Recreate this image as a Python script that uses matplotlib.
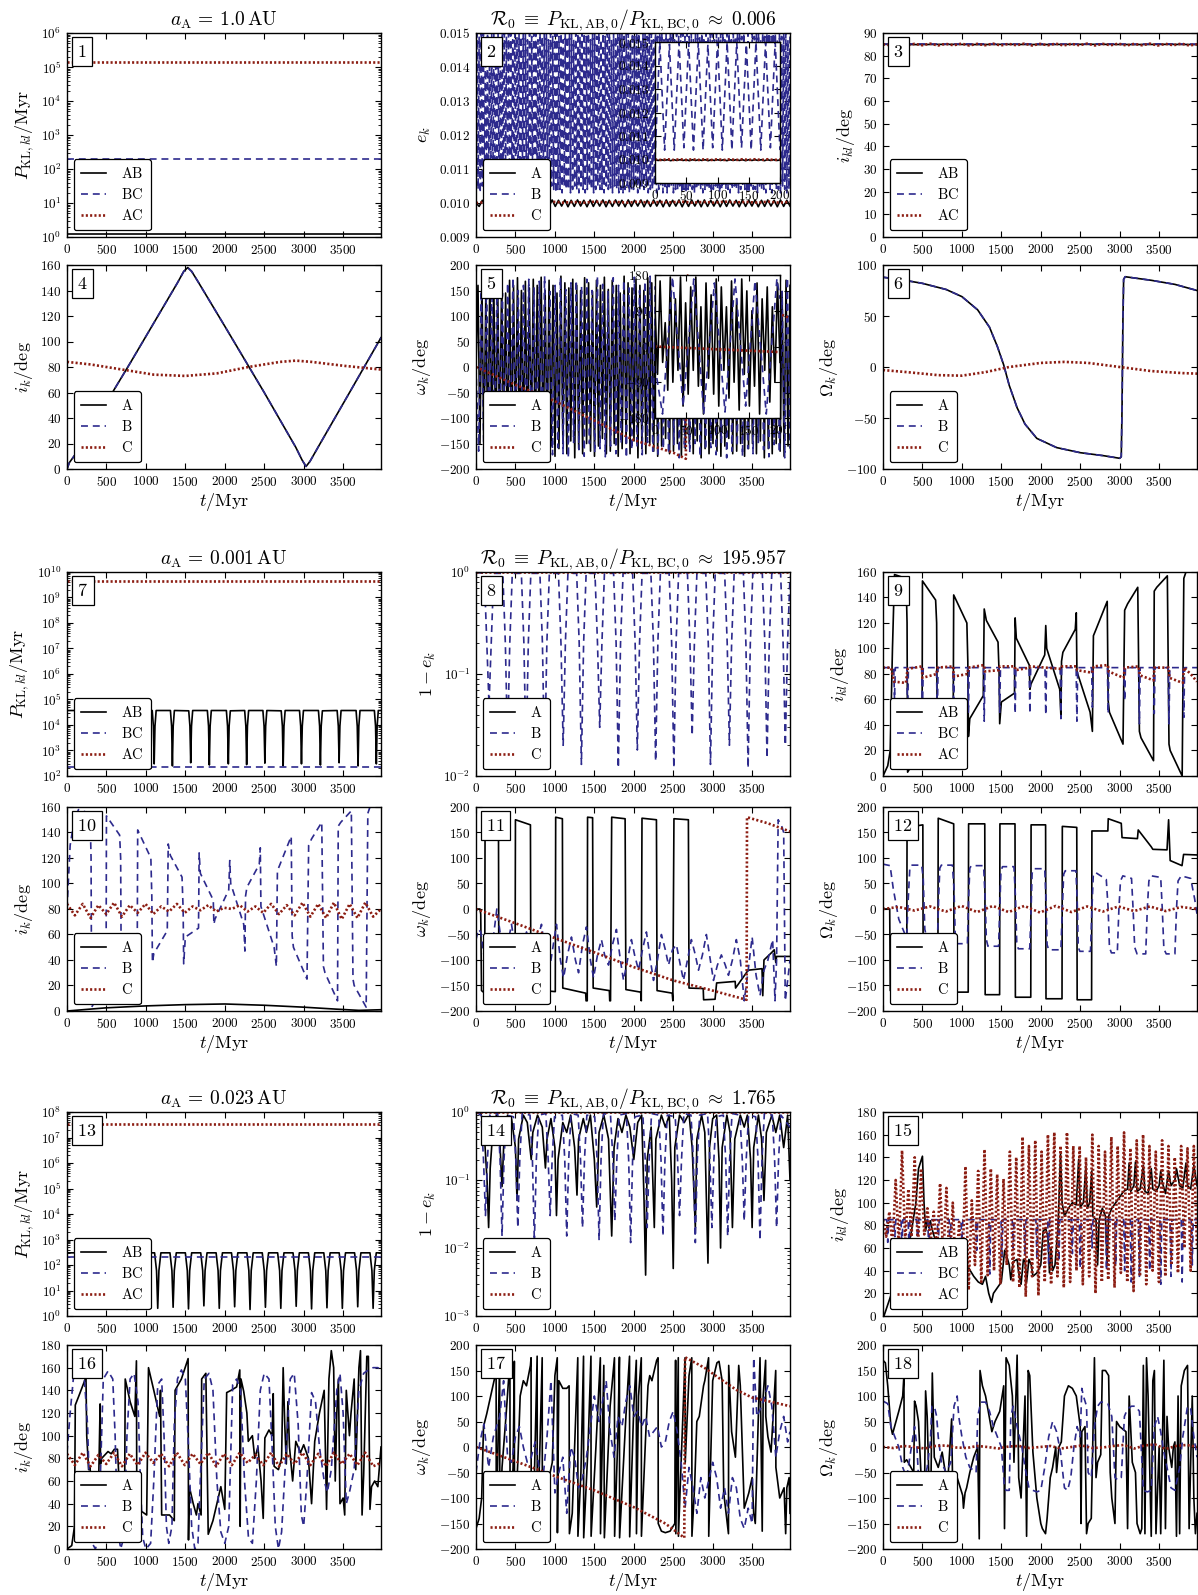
import numpy as np
import matplotlib
matplotlib.use("Agg")
import matplotlib.pyplot as plt
from matplotlib.ticker import FixedLocator, FuncFormatter, LogLocator, NullFormatter, NullLocator

W, H = 1198, 1595
XMAX = 3980
XTICKS = [0, 500, 1000, 1500, 2000, 2500, 3000, 3500]

# ===================== DATA =====================
# ---- top block: a_A = 1.0 AU ----
p1_AB = [(0, 1.25), (3980, 1.25)]
p1_BC = [(0, 195), (3980, 195)]
p1_AC = [(0, 1.45e5), (3980, 1.45e5)]

# e_k, units of 1e-4 (dense, uniformly sampled)
e2_A_e4 = [100.0, 99.0, 100.8, 99.1, 100.9, 98.9, 100.8, 99.0, 100.9, 99.1,
           100.8, 98.9, 100.9, 99.0, 100.8, 99.1, 100.9, 98.9, 100.8, 99.0,
           100.9, 99.1, 100.8, 98.9, 100.9, 99.0, 100.8, 99.1, 100.9, 98.9,
           100.8, 99.0, 100.9, 99.1, 100.8, 98.9, 100.9, 99.0, 100.8, 99.1,
           100.9, 98.9, 100.8, 99.0, 100.9, 99.1, 100.8, 98.9, 100.9, 99.0,
           100.8, 99.1, 100.9, 98.9, 100.8, 99.0, 100.9, 99.1, 100.8, 98.9,
           100.9, 99.0, 100.8, 99.1, 100.9, 98.9, 100.8, 99.0, 100.9, 99.1,
           100.8, 98.9, 100.9, 99.0, 100.8, 99.1, 100.9, 98.9, 100.8, 99.0,
           100.9, 99.1, 100.8, 98.9, 100.9, 99.0, 100.8, 99.1, 100.9, 98.9,
           100.8, 99.0, 100.9, 99.1, 100.8, 98.9, 100.9, 99.0, 100.8, 99.1]
e2_B_e4 = [100, 150, 104, 149, 103, 150, 105, 150, 104, 148, 103, 150, 104, 149, 105, 150, 103, 150, 104, 149,
           104, 150, 105, 148, 103, 150, 104, 150, 104, 149, 103, 150, 105, 150, 104, 148, 104, 150, 103, 149,
           105, 150, 104, 149, 103, 150, 104, 150, 105, 148, 104, 150, 103, 149, 104, 150, 105, 150, 104, 148,
           103, 150, 104, 149, 105, 150, 104, 150, 103, 148, 104, 150, 105, 149, 104, 150, 103, 150, 104, 149,
           104, 150, 103, 148, 105, 150, 104, 149, 104, 150, 103, 150, 104, 148, 105, 150, 104, 150, 103, 149,
           105, 150, 104, 150, 103, 149, 104, 150, 105, 148, 104, 150, 103, 150, 104, 149, 105, 150, 104, 148,
           104, 150, 103, 149, 105, 150, 104, 150, 104, 148, 103, 150, 105, 149, 104, 150, 103, 150, 104, 150,
           103, 149, 104, 150, 105, 150, 103, 148, 104, 150, 104, 149, 105, 150, 103, 150, 104, 148, 105, 150,
           104, 150, 105, 149, 103, 150, 104, 150, 104, 148, 105, 150, 103, 149, 104, 150, 105, 150, 103, 148,
           104, 150, 103, 149, 104, 150, 105, 150, 103, 148, 104, 150, 104, 149, 105, 150, 103, 150, 104, 149,
           103, 150, 104, 149, 105, 150, 104, 148, 103, 150, 104, 150, 105, 149, 104, 150, 103, 148, 104, 150,
           105, 149, 104, 150, 103, 150, 104, 148, 105, 150, 104, 149, 103, 150, 104, 150, 105, 148, 104, 150,
           104, 150, 103, 148, 104, 150, 105, 149, 104, 150, 103, 150, 104, 149, 105, 150, 104, 148, 103, 150,
           103, 148, 105, 150, 104, 149, 104, 150, 103, 150, 105, 148, 104, 150, 104, 149, 103, 150, 105, 150,
           104, 149, 103, 150, 105, 150, 104, 148, 104, 150, 103, 149, 105, 150, 104, 150, 103, 148, 104, 149]
e2_C_e4 = [100.0, 100.3, 100.1, 100.4, 100.1, 100.3, 100.2, 100.4, 100.1, 100.3,
           100.1, 100.4, 100.2, 100.3, 100.1, 100.4, 100.1, 100.3, 100.2, 100.4,
           100.1, 100.3, 100.1, 100.4, 100.2, 100.3, 100.1, 100.4, 100.1, 100.3]
# inset of panel 2 (0..200 Myr)
e2in_B_e4 = [100, 150, 104, 149, 104, 150, 105, 150, 104, 150, 104, 149, 105, 150,
             104, 150, 104, 150, 105, 149, 104, 150, 104, 150, 105, 150, 104]
e2in_A_e4 = [100.0, 99.6, 99.9, 99.6, 99.9, 99.5, 99.9, 99.6, 99.9, 99.6,
             99.9, 99.5, 99.9, 99.6, 99.9, 99.6, 99.9, 99.5, 99.9, 99.6,
             99.9, 99.6, 99.9, 99.5, 99.9, 99.6, 99.9, 99.6, 99.9, 99.5,
             99.9, 99.6, 99.9, 99.6, 99.9, 99.5, 99.9, 99.6, 99.9, 99.6, 99.8]
e2in_C_e4 = [100.0, 99.8, 100.1, 99.8, 100.1, 99.8, 100.1, 99.8, 100.1, 99.8,
             100.1, 99.8, 100.1, 99.8, 100.1, 99.8, 100.1, 99.8, 100.1, 99.8, 100.0]

i3_AB = [85.0, 84.9, 85.0, 84.9, 85.0, 84.9, 85.0, 85.0, 84.9, 85.0, 84.9]
i3_BC = [85.1, 85.2, 85.1, 85.2, 85.1, 85.2, 85.1, 85.2, 85.1, 85.2, 85.1]
i3_AC = [85.0, 84.6, 85.3, 84.5, 85.2, 84.6, 85.3, 84.5, 85.2, 84.6, 85.3, 84.5, 85.2, 84.6,
         85.3, 84.5, 85.2, 84.6, 85.3, 84.5, 85.2, 84.6, 85.3, 84.5, 85.2, 84.6, 85.3, 84.5,
         85.2, 84.6, 85.3, 84.5, 85.2, 84.6, 85.3, 84.5, 85.2, 84.6, 85.3, 84.5, 85.0]

i4_A = [(0, 0), (30, 5), (100, 11), (400, 42), (800, 83), (1200, 125), (1400, 146), (1480, 155),
        (1530, 158), (1580, 155), (1660, 147), (2000, 112), (2500, 60), (2900, 17), (2980, 7),
        (3030, 2), (3080, 6), (3200, 19), (3600, 62), (3980, 103)]
i4_B = i4_A  # B lies on top of A in the picture
i4_C = [(0, 84), (300, 82), (700, 78), (1100, 74), (1500, 73), (1900, 75), (2300, 80),
        (2700, 84), (2900, 85), (3100, 84), (3500, 81), (3980, 78)]

w5_A = [0, 160, -150, 170, -165, 150, -175, 175, -140, 165, -170, 155, -160, 178, -150, 145, -175, 170, -165, 160,
        -145, 175, -170, 150, -160, 168, -178, 155, -150, 172, -165, 160, -140, 176, -170, 150, -165, 170, -155, 160,
        -175, 145, -160, 178, -150, 165, -170, 155, -145, 172, -178, 160, -160, 150, -170, 175, -150, 165, -165, 148,
        -175, 170, -155, 160, -140, 176, -170, 152, -165, 170, -150, 160, -175, 145, -160, 178, -150, 165, -170, 155,
        -145, 172, -178, 160, -160, 150, -170, 175, -150, 165, -165, 148, -175, 170, -155, 160, -140, 176, -170, 152,
        -165, 170, -150, 160, -175, 145, -160, 178, -150, 165, -170, 155, -145, 172, -178, 160, -160, 150, -170, 175,
        -150, 165, -165, 148, -175, 170, -155, 160, -140, 176, -170, 152, -165, 170, -150, 160, -175, 145, -160, 178,
        -150, 165, -170, 155, -145, 172, -178, 160, -160, 150, -170, 175, -150, 165, -165, 148, -175, 170, -155, 160]
w5_B = [0, -165, 150, -178, 170, -150, 160, -170, 178, -160, 145, -175, 165, -155, 175, -168, 150, -178, 160, -145,
        172, -160, 155, -175, 168, -150, 178, -165, 148, -172, 160, -158, 175, -170, 152, -178, 165, -148, 170, -162,
        158, -175, 172, -150, 150, -168, 178, -160, 162, -176, 148, -155, 175, -170, 160, -150, 170, -178, 155, -162,
        176, -158, 150, -172, 168, -148, 178, -165, 158, -175, 145, -160, 172, -170, 165, -152, 150, -178, 175, -160,
        160, -168, 170, -150, 155, -176, 178, -162, 148, -158, 168, -172, 160, -150, 175, -178, 152, -165, 170, -155,
        158, -175, 176, -160, 150, -170, 165, -148, 178, -162, 155, -176, 170, -152, 160, -168, 148, -178, 175, -160]
w5_C = [(0, 0), (500, -35), (1000, -67), (1500, -105), (2000, -143), (2500, -168), (2660, -180),
        (2665, 180), (3000, 160), (3500, 125), (3980, 96)]
w5in_A = [90, -70, 165, -40, 60, -110, 175, -90, 120, -60, 175, -150, 110, -120, 150, -60, 175, -100,
          100, -170, 160, -80, 130, -120, 170, -150, 150, -60, 100, -130, 165, -90, 120, -160, 170, -70,
          140, -150, 90, -100, 160, -170, 120, -60, 150, -140, 100, -90, 160, -40]
w5in_B = [(0, -50), (12, -170), (28, 175), (45, -150), (62, 170), (78, -170), (95, 160), (112, -165),
          (128, 170), (145, -150), (160, 165), (178, -170), (195, 170), (200, 120)]
w5in_C = [(0, 0), (200, -14)]

O6_A = [(0, 88), (200, 86), (500, 82), (800, 76), (1000, 69), (1200, 56), (1350, 39), (1450, 20),
        (1530, 2), (1600, -18), (1700, -40), (1800, -56), (1950, -70), (2200, -79), (2500, -84),
        (2800, -87), (3000, -89.5), (3020, -88), (3030, -40), (3040, 40), (3050, 86), (3070, 88.5),
        (3400, 85), (3700, 81), (3980, 75)]
O6_B = O6_A  # B lies on top of A in the picture
O6_C = [(0, -3), (300, -5), (700, -8), (1000, -8.5), (1300, -5), (1600, 0), (2000, 4), (2300, 5),
        (2600, 4), (3000, 0), (3400, -4), (3800, -6), (3980, -6.5)]

# ---- middle block: a_A = 0.001 AU ----
p7_AB = [(0, 3.7e4), (140, 3.7e4), (155, 9e3), (165, 300), (175, 9e3), (190, 3.7e4),
         (375, 3.6e4), (390, 9e3), (400, 280), (410, 9e3), (425, 3.7e4),
         (610, 3.7e4), (625, 9e3), (635, 330), (645, 9e3), (660, 3.7e4),
         (845, 3.7e4), (860, 9e3), (870, 260), (880, 9e3), (895, 3.6e4),
         (1080, 3.7e4), (1095, 9e3), (1105, 300), (1115, 9e3), (1130, 3.7e4),
         (1311, 3.7e4), (1326, 9e3), (1336, 250), (1346, 9e3), (1361, 3.7e4),
         (1543, 3.6e4), (1558, 9e3), (1568, 330), (1578, 9e3), (1593, 3.7e4),
         (1779, 3.7e4), (1794, 9e3), (1804, 270), (1814, 9e3), (1829, 3.7e4),
         (2020, 3.7e4), (2035, 9e3), (2045, 300), (2055, 9e3), (2070, 3.6e4),
         (2252, 3.7e4), (2267, 9e3), (2277, 280), (2287, 9e3), (2302, 3.7e4),
         (2483, 3.7e4), (2498, 9e3), (2508, 320), (2518, 9e3), (2533, 3.7e4),
         (2715, 3.6e4), (2730, 9e3), (2740, 250), (2750, 9e3), (2765, 3.7e4),
         (2947, 3.7e4), (2962, 9e3), (2972, 300), (2982, 9e3), (2997, 3.7e4),
         (3187, 3.7e4), (3202, 9e3), (3212, 270), (3222, 9e3), (3237, 3.6e4),
         (3424, 3.7e4), (3439, 9e3), (3449, 330), (3459, 9e3), (3474, 3.7e4),
         (3664, 3.7e4), (3679, 9e3), (3689, 250), (3699, 9e3), (3714, 3.7e4),
         (3896, 3.7e4), (3911, 9e3), (3921, 300), (3931, 9e3), (3946, 3.7e4), (3980, 3.7e4)]
p7_BC = [(0, 225), (3980, 225)]
p7_AC = [(0, 4.6e9), (3980, 4.6e9)]

q8_A = [(0, 0.995), (3980, 0.995)]
q8_B = [(0, 0.99), (105, 0.97), (137, 0.2), (165, 0.05), (193, 0.2), (225, 0.97),
        (340, 0.97), (372, 0.2), (400, 0.02), (428, 0.2), (460, 0.97),
        (575, 0.97), (607, 0.2), (635, 0.015), (663, 0.2), (695, 0.97),
        (810, 0.97), (842, 0.2), (870, 0.012), (898, 0.2), (930, 0.97),
        (1045, 0.97), (1077, 0.2), (1105, 0.02), (1133, 0.2), (1165, 0.97),
        (1276, 0.97), (1308, 0.2), (1336, 0.013), (1364, 0.2), (1396, 0.97),
        (1508, 0.97), (1540, 0.2), (1568, 0.03), (1596, 0.2), (1628, 0.97),
        (1744, 0.97), (1776, 0.2), (1804, 0.012), (1832, 0.2), (1864, 0.97),
        (1985, 0.97), (2017, 0.2), (2045, 0.018), (2073, 0.2), (2105, 0.97),
        (2217, 0.97), (2249, 0.2), (2277, 0.014), (2305, 0.2), (2337, 0.97),
        (2448, 0.97), (2480, 0.2), (2508, 0.012), (2536, 0.2), (2568, 0.97),
        (2680, 0.97), (2712, 0.2), (2740, 0.025), (2768, 0.2), (2800, 0.97),
        (2912, 0.97), (2944, 0.2), (2972, 0.013), (3000, 0.2), (3032, 0.97),
        (3152, 0.97), (3184, 0.2), (3212, 0.02), (3240, 0.2), (3272, 0.97),
        (3389, 0.97), (3421, 0.2), (3449, 0.012), (3477, 0.2), (3509, 0.97),
        (3629, 0.97), (3661, 0.2), (3689, 0.015), (3717, 0.2), (3749, 0.97),
        (3861, 0.97), (3893, 0.2), (3921, 0.02), (3949, 0.2), (3980, 0.9)]
q8_C = [(0, 0.999), (3980, 0.999)]

i9_AB = [(0, 0), (60, 8), (92, 20), (120, 100), (146, 158), (292, 155), (305, 120), (312, 3),
         (495, 22), (500, 153), (667, 138), (680, 120), (688, 22), (890, 45), (896, 142),
         (1063, 120), (1075, 90), (1083, 31), (1100, 45), (1271, 63), (1283, 131), (1310, 122),
         (1458, 105), (1472, 80), (1479, 41), (1500, 58), (1667, 65), (1675, 124), (1690, 108),
         (1854, 87), (1862, 68), (1875, 72), (2050, 95), (2063, 118), (2075, 100), (2240, 68),
         (2255, 47), (2263, 90), (2280, 97), (2437, 115), (2450, 128), (2458, 82), (2625, 50),
         (2654, 35), (2667, 110), (2700, 115), (2842, 137), (2854, 59), (2870, 50), (3042, 25),
         (3063, 130), (3100, 135), (3229, 148), (3250, 35), (3270, 30), (3429, 12), (3438, 145),
         (3470, 148), (3604, 157), (3625, 25), (3640, 20), (3792, 0), (3813, 155), (3840, 160),
         (3980, 160)]
i9_BC = [(0, 85), (136, 85), (146, 60), (156, 85), (302, 85), (312, 45), (322, 85),
         (490, 85), (500, 50), (510, 85), (678, 85), (688, 45), (698, 85), (886, 85), (896, 55), (906, 85),
         (1073, 85), (1083, 50), (1093, 85), (1273, 85), (1283, 43), (1293, 85), (1469, 85), (1479, 50), (1489, 85),
         (1665, 85), (1675, 49), (1685, 85), (1852, 85), (1862, 49), (1872, 85), (2053, 85), (2063, 48), (2073, 85),
         (2245, 85), (2255, 45), (2265, 85), (2448, 85), (2458, 43), (2468, 85), (2644, 85), (2654, 54), (2664, 85),
         (2844, 85), (2854, 49), (2864, 85), (3053, 85), (3063, 59), (3073, 85), (3240, 85), (3250, 41), (3260, 85),
         (3428, 85), (3438, 49), (3448, 85), (3615, 85), (3625, 41), (3635, 85), (3803, 85), (3813, 46), (3823, 85),
         (3980, 85)]
i9_AC = [(0, 85), (100, 85), (140, 74), (290, 73), (312, 84), (495, 86), (500, 77), (680, 80), (690, 85),
         (890, 86), (896, 78), (1070, 80), (1083, 85), (1280, 87), (1290, 82), (1470, 83), (1480, 86),
         (1670, 86), (1680, 83), (1860, 85), (1870, 86), (2060, 85), (2260, 84), (2270, 86), (2450, 86),
         (2460, 83), (2650, 81), (2670, 86), (2850, 87), (2860, 82), (3050, 77), (3065, 85), (3240, 86),
         (3255, 79), (3430, 75), (3440, 85), (3620, 85), (3630, 77), (3800, 73), (3815, 85), (3900, 80),
         (3980, 74)]

i10_A = [(0, 0), (200, 1), (500, 2.5), (1000, 4), (1500, 5), (2000, 5.5), (2500, 4.5), (3000, 3),
         (3400, 1.5), (3700, 0.5), (3980, 1)]
i10_B = [(0, 80), (40, 130), (92, 150), (146, 158), (292, 155), (305, 120), (312, 3), (495, 22),
         (500, 153), (667, 138), (680, 120), (688, 22), (890, 45), (896, 142), (1063, 120), (1075, 90),
         (1083, 38), (1100, 45), (1271, 63), (1283, 131), (1310, 122), (1458, 105), (1472, 80), (1479, 37),
         (1500, 58), (1667, 65), (1675, 124), (1690, 108), (1854, 87), (1862, 68), (1875, 72), (2050, 95),
         (2063, 118), (2075, 100), (2240, 68), (2255, 47), (2263, 90), (2280, 97), (2437, 115), (2450, 128),
         (2458, 82), (2625, 50), (2654, 35), (2667, 110), (2700, 115), (2842, 137), (2854, 59), (2870, 50),
         (3042, 25), (3063, 130), (3100, 135), (3229, 148), (3250, 35), (3270, 30), (3429, 8), (3438, 145),
         (3470, 148), (3604, 157), (3625, 25), (3640, 20), (3792, 3), (3813, 155), (3840, 160), (3980, 160)]
i10_C = [84, 75, 84, 73, 83, 76, 85, 74, 83, 77, 84, 76, 82, 78, 84, 77, 82, 79, 83, 78, 81,
         80, 83, 78, 82, 77, 84, 76, 83, 75, 85, 74, 84, 73, 85, 72, 84, 73, 85, 74, 80]

w11_A = [(0, 0), (50, 0), (60, -10), (70, -160), (110, -165), (115, 165), (285, 160), (290, -160),
         (495, -165), (500, 175), (690, 165), (695, -158), (1005, -162), (1010, 180), (1095, 177),
         (1100, -155), (1390, -165), (1395, -180), (1410, -180), (1414, 180), (1478, 179), (1485, -155),
         (1690, -160), (1695, -180), (1705, -180), (1720, 180), (1890, 177), (1900, -158), (2087, -163),
         (2095, -180), (2104, 178), (2287, 175), (2295, -160), (2487, -165), (2495, -180), (2509, 177),
         (2692, 175), (2700, -155), (2880, -156), (2885, -178), (3030, -177), (3050, -145), (3285, -142),
         (3290, -155), (3450, -120), (3625, -117), (3635, -170), (3650, -100), (3750, -85), (3780, -80),
         (3800, -105), (3810, -93), (3980, -93)]
w11_B = [(0, -60), (30, -40), (60, -45), (100, -90), (160, -130), (200, -80), (264, 0), (300, -40),
         (350, -100), (400, -70), (450, -30), (500, -80), (540, -120), (600, -70), (640, -45), (690, -70),
         (730, -95), (780, -60), (830, -30), (880, -90), (920, -130), (970, -80), (1020, -30), (1070, -100),
         (1110, -135), (1160, -90), (1210, -55), (1260, -100), (1300, -125), (1350, -70), (1400, -35),
         (1450, -100), (1490, -135), (1540, -90), (1590, -60), (1630, -90), (1680, -110), (1730, -70),
         (1780, -40), (1830, -100), (1870, -140), (1920, -100), (1970, -60), (2010, -90), (2060, -120),
         (2110, -80), (2160, -45), (2210, -100), (2250, -140), (2300, -100), (2350, -50), (2400, -80),
         (2440, -110), (2490, -80), (2540, -70), (2590, -110), (2630, -140), (2680, -100), (2730, -60),
         (2780, -90), (2820, -120), (2870, -90), (2920, -50), (2970, -100), (3010, -140), (3060, -110),
         (3110, -90), (3160, -110), (3200, -130), (3250, -100), (3300, -60), (3350, -100), (3400, -180),
         (3450, -120), (3500, -55), (3550, -130), (3600, -170), (3650, -120), (3700, -100), (3760, -60),
         (3790, -180), (3810, -100), (3830, 175), (3870, 165), (3900, 150), (3920, -180), (3950, -140),
         (3980, -100)]
w11_C = [(0, 0), (500, -28), (1000, -57), (1500, -85), (2000, -114), (2500, -140), (3000, -160),
         (3430, -178), (3435, 180), (3700, 168), (3980, 152)]

O12_A = [(0, 0), (85, 0), (92, -160), (300, -165), (305, 160), (505, 165), (510, -165), (695, -165),
         (700, 178), (896, 167), (900, -163), (1080, -163), (1085, 167), (1290, 167), (1295, -168),
         (1478, -168), (1482, 167), (1673, 167), (1678, -173), (1873, -173), (1877, 165), (2061, 165),
         (2066, -176), (2269, -176), (2273, 162), (2456, 160), (2461, -178), (2644, -178), (2648, 153),
         (2850, 153), (2855, 177), (3020, 168), (3030, 140), (3225, 138), (3235, 155), (3400, 122),
         (3420, 117), (3600, 116), (3620, 175), (3640, 95), (3790, 85), (3810, 107), (3980, 106)]
O12_B = [(0, 88), (90, 85), (130, 40), (200, -20), (280, -50), (300, -55), (320, 20), (340, 80), (360, 86),
         (490, 86), (510, 60), (530, -40), (560, -60), (690, -62), (705, 20), (720, 80), (740, 86), (880, 86),
         (900, 40), (915, -50), (940, -68), (1070, -68), (1085, 20), (1100, 80), (1120, 85), (1275, 85),
         (1295, 20), (1310, -60), (1330, -73), (1465, -73), (1480, 0), (1495, 75), (1515, 83), (1660, 83),
         (1680, 20), (1695, -65), (1715, -78), (1860, -78), (1877, 0), (1890, 70), (1910, 79), (2050, 79),
         (2066, 20), (2080, -70), (2100, -80), (2255, -80), (2273, 0), (2290, 68), (2310, 75), (2445, 75),
         (2461, 20), (2475, -75), (2495, -83), (2630, -83), (2648, 0), (2665, 65), (2690, 72), (2830, 58),
         (2854, 0), (2870, -75), (2895, -86), (2970, -86), (2990, 0), (3010, 55), (3040, 65), (3150, 60),
         (3170, 0), (3190, -75), (3220, -88), (3330, -88), (3350, 0), (3370, 55), (3400, 65), (3520, 62),
         (3540, 0), (3560, -78), (3590, -88), (3700, -88), (3720, 0), (3740, 55), (3780, 65), (3900, 60),
         (3950, 20), (3980, -10)]
O12_C = [0, 4, -3, 5, -5, 6, -6, 6, -6, 6, -7, 6, -6, 5, -5, 5, -4, 5, -4, 4, 0]

# ---- bottom block: a_A = 0.023 AU ----
p13_AB = [(0, 300), (135, 300), (160, 60), (175, 2.5), (190, 60), (215, 300), (330, 300), (355, 60), (370, 2.0),
          (385, 60), (410, 300), (525, 300), (550, 60), (565, 2.2), (580, 60), (605, 300), (720, 300), (745, 60),
          (760, 1.8), (775, 60), (800, 300), (915, 300), (940, 60), (955, 2.4), (970, 60), (995, 300),
          (1110, 300), (1135, 60), (1150, 2.0), (1165, 60), (1190, 300), (1305, 300), (1330, 60), (1345, 2.2),
          (1360, 60), (1385, 300), (1500, 300), (1525, 60), (1540, 1.9), (1555, 60), (1580, 300), (1695, 300),
          (1720, 60), (1735, 2.5), (1750, 60), (1775, 300), (1890, 300), (1915, 60), (1930, 2.0), (1945, 60),
          (1970, 300), (2085, 300), (2110, 60), (2125, 2.3), (2140, 60), (2165, 300), (2280, 300), (2305, 60),
          (2320, 1.8), (2335, 60), (2360, 300), (2475, 300), (2500, 60), (2515, 2.2), (2530, 60), (2555, 300),
          (2670, 300), (2695, 60), (2710, 2.0), (2725, 60), (2750, 300), (2865, 300), (2890, 60), (2905, 2.4),
          (2920, 60), (2945, 300), (3060, 300), (3085, 60), (3100, 1.9), (3115, 60), (3140, 300), (3255, 300),
          (3280, 60), (3295, 2.1), (3310, 60), (3335, 300), (3450, 300), (3475, 60), (3490, 2.0), (3505, 60),
          (3530, 300), (3645, 300), (3670, 60), (3685, 2.3), (3700, 60), (3725, 300), (3840, 300), (3865, 60),
          (3880, 2.0), (3895, 60), (3920, 300), (3980, 300)]
p13_BC = [(0, 200), (3980, 200)]
p13_AC = [(0, 3.5e7), (3980, 3.5e7)]

q14_A = [(0, 0.99), (60, 0.98), (100, 0.6), (140, 0.1), (160, 0.02), (180, 0.15), (220, 0.7), (260, 0.9),
         (300, 0.4), (330, 0.08), (350, 0.3), (400, 0.9), (450, 0.8), (500, 0.3), (520, 0.05), (540, 0.4),
         (600, 0.9), (650, 0.7), (700, 0.2), (720, 0.5), (780, 0.9), (840, 0.6), (880, 0.15), (900, 0.4),
         (950, 0.8), (1000, 0.3), (1020, 0.03), (1040, 0.2), (1100, 0.7), (1150, 0.5), (1200, 0.9),
         (1250, 0.3), (1280, 0.06), (1300, 0.4), (1360, 0.8), (1400, 0.5), (1450, 0.9), (1500, 0.2),
         (1530, 0.04), (1560, 0.5), (1620, 0.9), (1680, 0.4), (1720, 0.015), (1750, 0.3), (1800, 0.8),
         (1850, 0.5), (1900, 0.9), (1950, 0.6), (2000, 0.2), (2050, 0.7), (2100, 0.9), (2130, 0.05),
         (2150, 0.004), (2170, 0.2), (2220, 0.6), (2260, 0.02), (2280, 0.4), (2350, 0.9), (2400, 0.6),
         (2450, 0.9), (2480, 0.1), (2500, 0.005), (2520, 0.3), (2580, 0.9), (2640, 0.7), (2700, 0.95),
         (2740, 0.3), (2780, 0.02), (2800, 0.4), (2860, 0.9), (2900, 0.5), (2940, 0.006), (2960, 0.3),
         (3000, 0.8), (3050, 0.9), (3080, 0.2), (3100, 0.01), (3120, 0.3), (3180, 0.9), (3220, 0.5),
         (3250, 0.02), (3280, 0.4), (3350, 0.9), (3400, 0.6), (3440, 0.9), (3480, 0.2), (3500, 0.02),
         (3520, 0.3), (3580, 0.9), (3620, 0.4), (3650, 0.05), (3680, 0.5), (3750, 0.9), (3800, 0.5),
         (3850, 0.9), (3900, 0.3), (3950, 0.9), (3980, 0.1)]
q14_B = [(0, 0.99), (65, 0.9), (95, 0.2), (120, 0.03), (145, 0.2), (175, 0.9), (275, 0.95), (305, 0.2),
         (330, 0.015), (355, 0.2), (385, 0.9), (475, 0.85), (505, 0.2), (530, 0.02), (555, 0.2), (585, 0.95),
         (685, 0.9), (715, 0.2), (740, 0.012), (765, 0.2), (795, 0.9), (885, 0.95), (915, 0.2), (940, 0.03),
         (965, 0.2), (995, 0.85), (1095, 0.9), (1125, 0.2), (1150, 0.015), (1175, 0.2), (1205, 0.95),
         (1295, 0.9), (1325, 0.2), (1350, 0.02), (1375, 0.2), (1405, 0.9), (1505, 0.85), (1535, 0.2),
         (1560, 0.013), (1585, 0.2), (1615, 0.95), (1705, 0.9), (1735, 0.2), (1760, 0.025), (1785, 0.2),
         (1815, 0.9), (1905, 0.95), (1935, 0.2), (1960, 0.012), (1985, 0.2), (2015, 0.85), (2115, 0.9),
         (2145, 0.2), (2170, 0.02), (2195, 0.2), (2225, 0.95), (2315, 0.9), (2345, 0.2), (2370, 0.015),
         (2395, 0.2), (2425, 0.9), (2525, 0.85), (2555, 0.2), (2580, 0.03), (2605, 0.2), (2635, 0.95),
         (2725, 0.9), (2755, 0.2), (2780, 0.012), (2805, 0.2), (2835, 0.9), (2935, 0.95), (2965, 0.2),
         (2990, 0.02), (3015, 0.2), (3045, 0.85), (3135, 0.9), (3165, 0.2), (3190, 0.015), (3215, 0.2),
         (3245, 0.95), (3345, 0.9), (3375, 0.2), (3400, 0.025), (3425, 0.2), (3455, 0.9), (3545, 0.85),
         (3575, 0.2), (3600, 0.013), (3625, 0.2), (3655, 0.95), (3755, 0.9), (3785, 0.2), (3810, 0.02),
         (3835, 0.2), (3865, 0.9), (3980, 0.6)]
q14_C = [(0, 0.999), (3980, 0.999)]

i15_AB = [(0, 0), (12, 0), (104, 19), (150, 45), (250, 60), (350, 70), (417, 100), (450, 130), (500, 141),
          (520, 100), (540, 75), (560, 84), (580, 78), (600, 84), (625, 76), (650, 70), (750, 55), (900, 50),
          (1000, 45), (1063, 45), (1150, 35), (1208, 30), (1260, 28), (1300, 35), (1340, 20), (1375, 12),
          (1400, 20), (1450, 25), (1500, 30), (1542, 58), (1580, 50), (1600, 45), (1620, 32), (1650, 48),
          (1700, 50), (1720, 38), (1750, 28), (1780, 50), (1800, 48), (1820, 30), (1850, 50), (1880, 45),
          (1900, 35), (1950, 38), (2000, 45), (2030, 75), (2063, 77), (2090, 70), (2110, 38), (2130, 60),
          (2150, 40), (2180, 45), (2220, 80), (2250, 143), (2270, 100), (2300, 88), (2350, 95), (2400, 100),
          (2450, 98), (2480, 138), (2500, 96), (2540, 100), (2571, 132), (2590, 95), (2620, 100), (2646, 128),
          (2660, 88), (2700, 85), (2720, 45), (2740, 85), (2780, 95), (2820, 88), (2840, 46), (2860, 88),
          (2900, 95), (2950, 100), (3000, 105), (3050, 110), (3100, 112), (3120, 135), (3140, 110),
          (3180, 115), (3200, 136), (3220, 110), (3260, 112), (3300, 133), (3320, 110), (3360, 108),
          (3400, 130), (3420, 112), (3460, 110), (3500, 115), (3520, 128), (3540, 118), (3580, 108),
          (3620, 128), (3650, 115), (3700, 120), (3720, 130), (3760, 115), (3800, 113), (3840, 135),
          (3860, 115), (3900, 112), (3940, 133), (3980, 115)]
i15_BC = [(0, 85), (48, 85), (60, 65), (72, 85), (138, 85), (150, 70), (162, 85), (228, 85), (240, 62), (252, 85),
          (318, 85), (330, 60), (342, 85), (428, 85), (440, 58), (452, 85), (568, 85), (580, 55), (592, 85),
          (688, 85), (700, 60), (712, 85), (838, 85), (850, 50), (862, 85), (988, 85), (1000, 65), (1012, 85),
          (1176, 85), (1188, 58), (1200, 85), (1342, 85), (1354, 37), (1366, 85), (1496, 85), (1508, 52), (1520, 85),
          (1638, 85), (1650, 60), (1662, 85), (1788, 85), (1800, 55), (1812, 85), (1938, 85), (1950, 50), (1962, 85),
          (2088, 85), (2100, 45), (2112, 85), (2218, 85), (2230, 48), (2242, 85), (2388, 85), (2400, 55), (2412, 85),
          (2488, 85), (2500, 42), (2512, 85), (2638, 85), (2650, 60), (2662, 85), (2821, 85), (2833, 40), (2845, 85),
          (2938, 85), (2950, 45), (2962, 85), (3051, 85), (3063, 40), (3075, 85), (3134, 85), (3146, 30), (3158, 85),
          (3238, 85), (3250, 35), (3262, 85), (3368, 85), (3380, 40), (3392, 85), (3509, 85), (3521, 28), (3533, 85),
          (3638, 85), (3650, 35), (3662, 85), (3780, 85), (3792, 30), (3804, 85), (3908, 85), (3920, 45), (3932, 85),
          (3980, 85)]
i15_AC = [85, 70, 92, 62, 120, 60, 146, 66, 112, 70, 140, 58, 130, 72, 95, 65, 92, 56, 117, 50, 113, 44, 100, 36, 83,
          40, 132, 23, 102, 45, 128, 30, 147, 36, 130, 40, 125, 28, 121, 45, 145, 30, 140, 25, 158, 17, 150, 35, 155, 18,
          145, 30, 160, 28, 162, 35, 150, 25, 162, 30, 150, 40, 150, 28, 140, 35, 160, 20, 150, 30,
          145, 32, 158, 25, 150, 38, 162, 30, 148, 22, 155, 35, 160, 28, 150, 40, 145, 30, 155, 35,
          150, 45, 140, 38, 150, 60, 148, 40, 150, 60]

i16_A = [(0, 0), (60, 3), (95, 20), (105, 127), (150, 135), (232, 150), (240, 155), (250, 100), (274, 70),
         (290, 72), (300, 66), (330, 60), (400, 55), (420, 128), (425, 75), (440, 80), (520, 86), (560, 84),
         (600, 88), (640, 88), (660, 60), (700, 45), (730, 40), (738, 150), (800, 130), (860, 117), (880, 166),
         (885, 35), (950, 33), (1010, 30), (1033, 160), (1100, 140), (1175, 117), (1185, 140), (1200, 30),
         (1300, 30), (1360, 25), (1370, 140), (1450, 150), (1535, 168), (1540, 8), (1550, 55), (1600, 40),
         (1640, 30), (1660, 40), (1700, 30), (1707, 150), (1760, 155), (1790, 13), (1850, 25), (1900, 40),
         (1950, 55), (2000, 35), (2024, 138), (2080, 140), (2150, 143), (2190, 158), (2195, 20), (2205, 150),
         (2240, 139), (2280, 120), (2298, 95), (2350, 100), (2380, 80), (2420, 90), (2460, 60), (2487, 27),
         (2508, 98), (2560, 105), (2600, 100), (2614, 137), (2625, 73), (2680, 70), (2720, 80), (2740, 160),
         (2760, 110), (2780, 75), (2800, 130), (2820, 90), (2860, 60), (2900, 95), (2960, 85), (3000, 92),
         (3060, 80), (3100, 40), (3140, 95), (3200, 120), (3260, 140), (3290, 35), (3320, 150), (3350, 175),
         (3380, 160), (3400, 60), (3420, 120), (3440, 150), (3460, 40), (3500, 45), (3520, 30), (3540, 140),
         (3580, 100), (3600, 120), (3640, 150), (3660, 70), (3700, 160), (3720, 175), (3740, 30), (3760, 65),
         (3800, 170), (3820, 170), (3840, 35), (3860, 55), (3900, 60), (3940, 55), (3980, 90)]
i16_B = [(0, 85), (40, 120), (80, 150), (150, 157), (220, 150), (260, 110), (290, 40), (320, 5), (360, 0),
         (400, 10), (430, 80), (460, 150), (520, 157), (580, 150), (610, 100), (640, 20), (680, 0), (720, 10),
         (760, 100), (800, 150), (850, 155), (900, 130), (930, 60), (960, 10), (1000, 0), (1060, 5),
         (1100, 60), (1150, 145), (1200, 150), (1230, 100), (1260, 20), (1290, 5), (1330, 20), (1360, 110),
         (1400, 150), (1450, 158), (1500, 150), (1540, 90), (1580, 20), (1620, 0), (1660, 5), (1700, 80),
         (1740, 150), (1800, 155), (1850, 140), (1900, 60), (1950, 15), (2000, 5), (2050, 20), (2100, 145),
         (2150, 150), (2200, 140), (2250, 60), (2300, 10), (2350, 5), (2400, 60), (2450, 140), (2500, 155),
         (2560, 150), (2600, 90), (2640, 20), (2680, 0), (2720, 15), (2780, 90), (2830, 150), (2880, 155),
         (2930, 110), (2970, 30), (3000, 20), (3040, 60), (3100, 138), (3150, 130), (3200, 90), (3260, 60),
         (3300, 50), (3350, 70), (3420, 140), (3460, 155), (3500, 120), (3540, 40), (3580, 50), (3640, 70),
         (3700, 140), (3760, 155), (3820, 158), (3880, 160), (3940, 160), (3980, 158)]
i16_C = [84, 74, 85, 73, 83, 75, 85, 73, 84, 74, 85, 76, 84, 73, 85, 74, 84, 75, 85, 73, 84,
         74, 85, 76, 83, 74, 85, 73, 84, 75, 85, 74, 84, 73, 85, 75, 84, 74, 85, 73, 76]

w17_A = [(0, -160), (40, -140), (72, -100), (95, 40), (136, 65), (243, 140), (255, 175), (257, -175),
         (270, -60), (300, 170), (302, -170), (330, -40), (380, 60), (430, 170), (432, -165), (470, -40),
         (486, 168), (488, -175), (530, -30), (560, 100), (600, 130), (640, 120), (690, 160), (698, 175),
         (700, -170), (740, -60), (775, 178), (777, -175), (810, 0), (839, 175), (841, -170), (900, -80),
         (967, -30), (1000, 140), (1030, 175), (1032, -168), (1050, 130), (1100, 115), (1150, 115),
         (1180, 120), (1184, -170), (1220, -130), (1290, 175), (1292, -175), (1330, -50), (1363, 178),
         (1365, -178), (1420, 0), (1457, 178), (1459, -175), (1520, 0), (1576, 175), (1578, -170),
         (1620, 160), (1627, -178), (1700, 80), (1755, 175), (1757, -175), (1800, 30), (1818, 176),
         (1820, -178), (1900, 60), (1946, 178), (1948, -176), (2000, 80), (2032, 170), (2034, -170),
         (2060, 100), (2095, 175), (2097, -175), (2150, 20), (2180, 120), (2202, 140), (2230, 130),
         (2290, 170), (2308, 175), (2310, -150), (2350, -165), (2400, -168), (2460, -165), (2520, -150),
         (2530, 170), (2533, -170), (2564, 175), (2566, -175), (2600, -30), (2650, 175), (2652, -30),
         (2700, 140), (2735, 175), (2737, -175), (2770, -80), (2799, 50), (2830, 60), (2884, 120),
         (2900, 130), (2948, 175), (2950, -175), (3000, 130), (3054, 165), (3080, 168), (3120, 130),
         (3140, -90), (3200, -170), (3203, 160), (3240, 30), (3288, -20), (3330, 160), (3350, 120),
         (3400, -120), (3458, -90), (3500, -60), (3520, -130), (3540, -150), (3600, 175), (3628, -165),
         (3640, 100), (3671, 170), (3673, 60), (3700, 20), (3740, -10), (3799, 150), (3801, -40),
         (3850, -100), (3905, -80), (3925, -170), (3940, -80), (3969, -60), (3980, -130)]
w17_B = [(0, -50), (50, 10), (100, 45), (160, -40), (220, 20), (300, 60), (350, 130), (400, -20), (450, -30),
         (500, 20), (550, 40), (600, 0), (650, -30), (700, -20), (750, 10), (800, -40), (850, -60), (900, 20),
         (950, 130), (1000, -90), (1050, -50), (1100, -20), (1150, -130), (1200, 0), (1250, -20), (1300, -80),
         (1350, -60), (1400, -20), (1450, 40), (1500, 100), (1560, 50), (1650, 130), (1700, 30), (1750, -20),
         (1800, 60), (1850, 40), (1900, 90), (1950, 120), (2000, 60), (2050, 70), (2100, 40), (2150, 60),
         (2200, 20), (2300, 40), (2350, 0), (2400, 10), (2450, 50), (2500, 70), (2550, 30), (2600, -30),
         (2650, -120), (2700, -40), (2750, -80), (2800, -130), (2850, -60), (2900, -100), (3000, -30),
         (3050, -60), (3100, -120), (3150, -80), (3200, -130), (3250, -60), (3300, -80), (3350, -140),
         (3400, -160), (3450, -120), (3500, -150), (3520, 175), (3560, 60), (3620, 80), (3700, 120),
         (3750, 80), (3800, -20), (3850, 30), (3900, 60), (3950, 10), (3980, 30)]
w17_C = [(0, 0), (500, -28), (1000, -57), (1500, -85), (2000, -118), (2400, -150), (2640, -178),
         (2650, 176), (2900, 155), (3100, 133), (3300, 112), (3500, 97), (3700, 90), (3980, 80)]

O18_A = [(0, 170), (30, 165), (60, 120), (100, 40), (120, 25), (200, 70), (250, 100), (265, 140), (270, -30),
         (300, -25), (390, -50), (400, 90), (420, 80), (450, 50), (520, -180), (540, 110), (560, 60), (600, -170),
         (625, 145), (650, -20), (700, -40), (750, -10), (780, -40), (820, -70), (870, 55), (880, -50), (940, -60),
         (1010, -95), (1020, -120), (1040, -90), (1060, -80), (1100, -50), (1150, -20), (1200, 0), (1220, -180),
         (1230, 150), (1260, 120), (1300, 100), (1380, 30), (1420, 50), (1480, 70), (1530, 120), (1540, -160),
         (1560, 175), (1600, 160), (1640, 100), (1660, -30), (1700, 180), (1720, -60), (1750, -100), (1800, 100),
         (1820, -175), (1840, 150), (1860, 140), (1900, -10), (1950, -100), (2000, -150), (2020, -160),
         (2060, -170), (2080, -140), (2120, -60), (2150, -40), (2190, 0), (2200, -50), (2230, 0), (2260, 10),
         (2300, 100), (2350, 120), (2400, 115), (2450, 100), (2500, 40), (2510, -150), (2520, 30), (2560, 40),
         (2580, -170), (2600, -150), (2640, -140), (2680, 175), (2700, -60), (2720, -30), (2760, -15),
         (2780, 150), (2820, 150), (2860, 140), (2880, -50), (2900, -100), (2940, -150), (2960, 50), (3000, 40),
         (3080, 30), (3100, -160), (3120, 100), (3160, -30), (3200, -50), (3220, -150), (3260, -170),
         (3280, -160), (3300, 160), (3320, -170), (3340, 175), (3360, 100), (3400, -175), (3420, 130),
         (3440, 150), (3460, -170), (3500, 0), (3520, -170), (3560, 170), (3580, -160), (3600, 60), (3620, 0),
         (3660, -40), (3680, 0), (3700, 10), (3720, -175), (3740, 100), (3760, -170), (3780, 120), (3820, 150),
         (3860, 160), (3880, -160), (3920, 100), (3940, -100), (3960, -170), (3980, -130)]
O18_B = [(0, 90), (60, 85), (100, 40), (150, 20), (200, 0), (250, -40), (300, -60), (330, -30), (400, 40),
         (430, 0), (450, -60), (500, -80), (560, -40), (600, 10), (620, 80), (650, 80), (680, 60), (700, 20),
         (740, -30), (800, -50), (860, -30), (900, 80), (940, 100), (960, 60), (1000, 20), (1050, -20),
         (1100, -40), (1180, -50), (1200, 60), (1240, 88), (1300, 88), (1350, 70), (1400, 40), (1450, 20),
         (1500, 0), (1540, -80), (1560, -85), (1600, -85), (1620, 60), (1650, 80), (1700, 40), (1760, 0),
         (1800, -40), (1850, -80), (1900, -85), (1950, -88), (2000, -85), (2050, -40), (2100, 20), (2150, 50),
         (2200, 30), (2250, -10), (2300, -80), (2340, -85), (2380, -60), (2420, 0), (2460, 40), (2500, 20),
         (2520, 115), (2540, 100), (2580, 80), (2600, -50), (2640, -60), (2680, 40), (2720, 80), (2760, 88),
         (2800, 88), (2850, 85), (2900, 60), (2940, -60), (2980, -65), (3020, -60), (3060, 60), (3100, 75),
         (3150, 80), (3200, 80), (3250, 70), (3300, -85), (3350, -88), (3400, -85), (3440, 40), (3480, 60),
         (3520, 30), (3560, -10), (3600, -40), (3650, -80), (3700, -85), (3760, -40), (3800, 20), (3860, 80),
         (3900, 75), (3940, 20), (3980, -20)]
O18_C = [0, -2, 2, 0, -3, 2, 3, -1, -2, 2, 0, -3, 1, 2, -2, 0, 2, -3, 0, 3, -2, -1, 2, 4, -3, 3, 5, -4, 2, 4, 0]

TITLE_A = [r'$a_\mathrm{A}\,=\,1.0\,\mathrm{AU}$', r'$a_\mathrm{A}\,=\,0.001\,\mathrm{AU}$',
           r'$a_\mathrm{A}\,=\,0.023\,\mathrm{AU}$']
TITLE_R = [r'$\mathcal{R}_0\;\equiv\;P_{\mathrm{KL,AB,0}}/P_{\mathrm{KL,BC,0}}\;\approx\;0.006$',
           r'$\mathcal{R}_0\;\equiv\;P_{\mathrm{KL,AB,0}}/P_{\mathrm{KL,BC,0}}\;\approx\;195.957$',
           r'$\mathcal{R}_0\;\equiv\;P_{\mathrm{KL,AB,0}}/P_{\mathrm{KL,BC,0}}\;\approx\;1.765$']
LAB_PAIR = [r'$\mathrm{AB}$', r'$\mathrm{BC}$', r'$\mathrm{AC}$']
LAB_BODY = [r'$\mathrm{A}$', r'$\mathrm{B}$', r'$\mathrm{C}$']

# ===================== STYLE / HELPERS =====================
plt.rcParams.update({
    'font.family': 'serif', 'font.serif': ['DejaVu Serif'], 'mathtext.fontset': 'cm',
    'lines.scale_dashes': False, 'axes.linewidth': 1.0,
    'figure.facecolor': 'white', 'axes.facecolor': 'white',
})
CA, CB, CC = 'black', '#2d2a8d', '#8c1d12'

fig = plt.figure(figsize=(W / 100, H / 100), dpi=100)
COL_L = [67, 476, 883]
ROW_T = [33, 265, 572, 807, 1112, 1345]
AX_W, AX_H = 314, 204


def make_ax(col, row):
    return fig.add_axes([COL_L[col] / W, 1 - (ROW_T[row] + AX_H) / H, AX_W / W, AX_H / H])


def pr(p):
    a = np.asarray(p, float)
    return a[:, 0], a[:, 1]


def uni(v, t1=XMAX):
    return np.linspace(0, t1, len(v)), np.asarray(v, float)


def pA(ax, t, v):
    return ax.plot(t, v, color=CA, lw=1.2)[0]


def pB(ax, t, v, lw=1.2):
    return ax.plot(t, v, color=CB, lw=lw, dashes=(5, 3.5))[0]


def pC(ax, t, v):
    return ax.plot(t, v, color=CC, lw=1.9, dashes=(1.5, 1.6))[0]


def ticks(ax, yticks, yfmt='%d', log=False, xt=XTICKS, xlim=(0, XMAX)):
    ax.set_xlim(*xlim)
    ax.xaxis.set_major_locator(FixedLocator(xt))
    ax.xaxis.set_major_formatter(FuncFormatter(lambda v, p: '$%d$' % v))
    ax.xaxis.set_minor_locator(NullLocator())
    ax.yaxis.set_major_locator(FixedLocator(yticks))
    if log:
        ax.yaxis.set_major_formatter(FuncFormatter(lambda v, p: '$10^{%d}$' % int(round(np.log10(v)))))
        ax.yaxis.set_minor_locator(LogLocator(base=10, subs=np.arange(2, 10), numticks=200))
        ax.yaxis.set_minor_formatter(NullFormatter())
    else:
        ax.yaxis.set_major_formatter(FuncFormatter(lambda v, p, f=yfmt: '$' + (f % v) + '$'))
        ax.yaxis.set_minor_locator(NullLocator())
    ax.tick_params(which='both', direction='in', top=True, right=True, labelsize=9.5, pad=4)
    ax.tick_params(which='major', length=4.5, width=0.8)
    ax.tick_params(which='minor', length=2.2, width=0.6)


def finish(ax, num, lines, labels, ylabel, xlabel=False):
    leg = ax.legend(lines, labels, loc='lower left', fontsize=10.5, frameon=True, fancybox=True,
                    framealpha=1, edgecolor='black', handlelength=1.75, handletextpad=1.0,
                    labelspacing=0.42, borderpad=0.5, borderaxespad=0.45)
    leg.get_frame().set_linewidth(0.9)
    ax.text(0.033, 0.952, '$%d$' % num, transform=ax.transAxes, ha='left', va='top', fontsize=13,
            bbox=dict(boxstyle='square,pad=0.3', fc='white', ec='black', lw=0.9), zorder=10)
    ax.set_ylabel(ylabel, fontsize=13)
    if xlabel:
        ax.set_xlabel(r'$t/\mathrm{Myr}$', fontsize=13, labelpad=2)


YL_P = r'$P_{\mathrm{KL},kl}/\mathrm{Myr}$'
YL_IKL = r'$i_{kl}/\mathrm{deg}$'
YL_IK = r'$i_k/\mathrm{deg}$'
YL_W = r'$\omega_k/\mathrm{deg}$'
YL_O = r'$\Omega_k/\mathrm{deg}$'
YL_1E = r'$1-e_k$'
YL_E = r'$e_k$'
ANG = [-200, -150, -100, -50, 0, 50, 100, 150, 200]
TFS = 14

# ---------- panel 1 ----------
ax = make_ax(0, 0)
ax.set_yscale('log'); ax.set_ylim(1, 1e6)
L = [pA(ax, *pr(p1_AB)), pB(ax, *pr(p1_BC)), pC(ax, *pr(p1_AC))]
ticks(ax, [10.0 ** k for k in range(0, 7)], log=True)
finish(ax, 1, L, LAB_PAIR, YL_P)
ax.set_title(TITLE_A[0], fontsize=TFS, pad=5)

# ---------- panel 2 ----------
ax = make_ax(1, 0)
ax.set_ylim(0.009, 0.015)
t, v = uni(e2_A_e4); lA = pA(ax, t, v * 1e-4)
t, v = uni(e2_B_e4); lB = pB(ax, t, v * 1e-4)
t, v = uni(e2_C_e4); lC = pC(ax, t, v * 1e-4)
ticks(ax, [0.009, 0.010, 0.011, 0.012, 0.013, 0.014, 0.015], yfmt='%.3f')
finish(ax, 2, [lA, lB, lC], LAB_BODY, YL_E)
ax.set_title(TITLE_R[0], fontsize=TFS, pad=5)
axi = fig.add_axes([655 / W, 1 - 183 / H, 125 / W, 141 / H])
axi.set_ylim(0.009, 0.015)
t, v = uni(e2in_A_e4, 200); pA(axi, t, v * 1e-4)
t, v = uni(e2in_B_e4, 200); pB(axi, t, v * 1e-4)
t, v = uni(e2in_C_e4, 200); pC(axi, t, v * 1e-4)
ticks(axi, [0.009, 0.010, 0.011, 0.012, 0.013, 0.014, 0.015], yfmt='%.3f', xt=[0, 50, 100, 150, 200], xlim=(0, 200))

# ---------- panel 3 ----------
ax = make_ax(2, 0)
ax.set_ylim(0, 90)
L = [pA(ax, *uni(i3_AB)), pB(ax, *uni(i3_BC)), pC(ax, *uni(i3_AC))]
ticks(ax, list(range(0, 91, 10)))
finish(ax, 3, L, LAB_PAIR, YL_IKL)

# ---------- panel 4 ----------
ax = make_ax(0, 1)
ax.set_ylim(0, 160)
L = [pA(ax, *pr(i4_A)), pB(ax, *pr(i4_B)), pC(ax, *pr(i4_C))]
ticks(ax, list(range(0, 161, 20)))
finish(ax, 4, L, LAB_BODY, YL_IK, xlabel=True)

# ---------- panel 5 ----------
ax = make_ax(1, 1)
ax.set_ylim(-200, 200)
L = [pA(ax, *uni(w5_A)), pB(ax, *uni(w5_B)), pC(ax, *pr(w5_C))]
ticks(ax, ANG)
finish(ax, 5, L, LAB_BODY, YL_W, xlabel=True)
axi = fig.add_axes([655 / W, 1 - 418 / H, 125 / W, 143 / H])
axi.set_ylim(-180, 180)
pA(axi, *uni(w5in_A, 200)); pB(axi, *pr(w5in_B)); pC(axi, *pr(w5in_C))
ticks(axi, [-180, -90, 0, 90, 180], xt=[0, 50, 100, 150, 200], xlim=(0, 200))

# ---------- panel 6 ----------
ax = make_ax(2, 1)
ax.set_ylim(-100, 100)
L = [pA(ax, *pr(O6_A)), pB(ax, *pr(O6_B)), pC(ax, *pr(O6_C))]
ticks(ax, [-100, -50, 0, 50, 100])
finish(ax, 6, L, LAB_BODY, YL_O, xlabel=True)

# ---------- panel 7 ----------
ax = make_ax(0, 2)
ax.set_yscale('log'); ax.set_ylim(1e2, 1e10)
L = [pA(ax, *pr(p7_AB)), pB(ax, *pr(p7_BC)), pC(ax, *pr(p7_AC))]
ticks(ax, [10.0 ** k for k in range(2, 11)], log=True)
finish(ax, 7, L, LAB_PAIR, YL_P)
ax.set_title(TITLE_A[1], fontsize=TFS, pad=5)

# ---------- panel 8 ----------
ax = make_ax(1, 2)
ax.set_yscale('log'); ax.set_ylim(1e-2, 1)
L = [pA(ax, *pr(q8_A)), pB(ax, *pr(q8_B)), pC(ax, *pr(q8_C))]
ticks(ax, [1e-2, 1e-1, 1.0], log=True)
finish(ax, 8, L, LAB_BODY, YL_1E)
ax.set_title(TITLE_R[1], fontsize=TFS, pad=5)

# ---------- panel 9 ----------
ax = make_ax(2, 2)
ax.set_ylim(0, 160)
L = [pA(ax, *pr(i9_AB)), pB(ax, *pr(i9_BC)), pC(ax, *pr(i9_AC))]
ticks(ax, list(range(0, 161, 20)))
finish(ax, 9, L, LAB_PAIR, YL_IKL)

# ---------- panel 10 ----------
ax = make_ax(0, 3)
ax.set_ylim(0, 160)
L = [pA(ax, *pr(i10_A)), pB(ax, *pr(i10_B)), pC(ax, *uni(i10_C))]
ticks(ax, list(range(0, 161, 20)))
finish(ax, 10, L, LAB_BODY, YL_IK, xlabel=True)

# ---------- panel 11 ----------
ax = make_ax(1, 3)
ax.set_ylim(-200, 200)
L = [pA(ax, *pr(w11_A)), pB(ax, *pr(w11_B)), pC(ax, *pr(w11_C))]
ticks(ax, ANG)
finish(ax, 11, L, LAB_BODY, YL_W, xlabel=True)

# ---------- panel 12 ----------
ax = make_ax(2, 3)
ax.set_ylim(-200, 200)
L = [pA(ax, *pr(O12_A)), pB(ax, *pr(O12_B)), pC(ax, *uni(O12_C))]
ticks(ax, ANG)
finish(ax, 12, L, LAB_BODY, YL_O, xlabel=True)

# ---------- panel 13 ----------
ax = make_ax(0, 4)
ax.set_yscale('log'); ax.set_ylim(1, 1e8)
L = [pA(ax, *pr(p13_AB)), pB(ax, *pr(p13_BC)), pC(ax, *pr(p13_AC))]
ticks(ax, [10.0 ** k for k in range(0, 9)], log=True)
finish(ax, 13, L, LAB_PAIR, YL_P)
ax.set_title(TITLE_A[2], fontsize=TFS, pad=5)

# ---------- panel 14 ----------
ax = make_ax(1, 4)
ax.set_yscale('log'); ax.set_ylim(1e-3, 1)
L = [pA(ax, *pr(q14_A)), pB(ax, *pr(q14_B)), pC(ax, *pr(q14_C))]
ticks(ax, [1e-3, 1e-2, 1e-1, 1.0], log=True)
finish(ax, 14, L, LAB_BODY, YL_1E)
ax.set_title(TITLE_R[2], fontsize=TFS, pad=5)

# ---------- panel 15 ----------
ax = make_ax(2, 4)
ax.set_ylim(0, 180)
L = [pA(ax, *pr(i15_AB)), pB(ax, *pr(i15_BC)), pC(ax, *uni(i15_AC))]
ticks(ax, list(range(0, 181, 20)))
finish(ax, 15, L, LAB_PAIR, YL_IKL)

# ---------- panel 16 ----------
ax = make_ax(0, 5)
ax.set_ylim(0, 180)
L = [pA(ax, *pr(i16_A)), pB(ax, *pr(i16_B)), pC(ax, *uni(i16_C))]
ticks(ax, list(range(0, 181, 20)))
finish(ax, 16, L, LAB_BODY, YL_IK, xlabel=True)

# ---------- panel 17 ----------
ax = make_ax(1, 5)
ax.set_ylim(-200, 200)
L = [pA(ax, *pr(w17_A)), pB(ax, *pr(w17_B)), pC(ax, *pr(w17_C))]
ticks(ax, ANG)
finish(ax, 17, L, LAB_BODY, YL_W, xlabel=True)

# ---------- panel 18 ----------
ax = make_ax(2, 5)
ax.set_ylim(-200, 200)
L = [pA(ax, *pr(O18_A)), pB(ax, *pr(O18_B)), pC(ax, *uni(O18_C))]
ticks(ax, ANG)
finish(ax, 18, L, LAB_BODY, YL_O, xlabel=True)

fig.savefig('out.png', dpi=100, facecolor='white')
